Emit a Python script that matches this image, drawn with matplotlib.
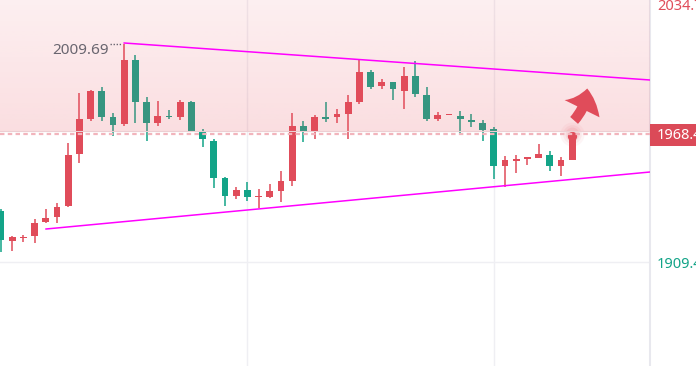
import matplotlib
matplotlib.use("Agg")
import matplotlib.pyplot as plt
from matplotlib.patches import Rectangle, FancyArrowPatch
import numpy as np

plt.rcParams["font.family"] = ["Noto Sans", "DejaVu Sans"]

# candle data (index 0..51), red = up, green = down
opens = [1932.87, 1919.07, 1920.45, 1921.37, 1927.81, 1930.11, 1935.17, 1959.09, 1975.19, 1988.07,
         1976.11, 1972.89, 2002.33, 1983.01, 1973.35, 1976.57, 1976.11, 1983.01, 1969.67, 1965.07,
         1948.05, 1939.77, 1942.53, 1939.31, 1939.31, 1942.07, 1946.67, 1971.97, 1969.21, 1976.11,
         1976.11, 1977.49, 1983.01, 1996.81, 1990.37, 1992.21, 1988.07, 1994.97, 1986.23, 1975.19,
         1977.26, 1976.57, 1974.73, 1973.35, 1970.59, 1953.57, 1955.87, 1956.79, 1957.25, 1958.63,
         1953.57, 1956.33]
closes = [1919.53, 1920.91, 1920.91, 1927.35, 1929.65, 1934.71, 1958.63, 1975.19, 1988.07, 1976.11,
          1972.43, 2002.33, 1983.01, 1973.35, 1976.57, 1976.11, 1983.01, 1969.67, 1965.99, 1948.05,
          1939.77, 1942.53, 1939.31, 1939.77, 1942.07, 1946.67, 1971.97, 1969.21, 1976.11, 1975.19,
          1977.49, 1983.01, 1996.81, 1989.91, 1992.21, 1988.99, 1994.97, 1986.69, 1975.19, 1977.03,
          1977.49, 1975.19, 1973.81, 1970.13, 1953.57, 1956.33, 1956.79, 1957.71, 1959.09, 1953.57,
          1956.33, 1968.40]
highs = [1933.79, 1921.37, 1921.83, 1929.19, 1933.79, 1936.55, 1964.15, 1987.15, 1988.53, 1989.91,
         1977.95, 2009.69, 2004.63, 1985.31, 1983.47, 1979.33, 1983.93, 1983.47, 1970.59, 1965.99,
         1948.51, 1943.91, 1946.21, 1942.99, 1945.29, 1951.27, 1977.95, 1974.27, 1977.03, 1983.01,
         1979.79, 1986.23, 2002.33, 1997.73, 1993.59, 1992.21, 1999.11, 2001.87, 1989.91, 1978.41,
         1977.49, 1978.87, 1977.49, 1974.73, 1971.51, 1958.17, 1958.63, 1957.71, 1963.47, 1960.47,
         1957.71, 1968.40]
lows = [1914.01, 1914.47, 1918.61, 1918.15, 1927.35, 1927.35, 1934.71, 1954.95, 1974.27, 1974.27,
        1967.37, 1971.97, 1973.35, 1965.07, 1971.97, 1975.19, 1974.73, 1969.67, 1962.31, 1943.45,
        1935.17, 1938.39, 1937.47, 1934.25, 1938.85, 1937.01, 1944.37, 1964.61, 1965.99, 1973.81,
        1973.35, 1965.99, 1982.09, 1988.99, 1988.99, 1983.93, 1979.79, 1985.31, 1974.27, 1974.27,
        1977.26, 1968.29, 1971.51, 1965.07, 1947.59, 1943.91, 1950.35, 1954.03, 1957.25, 1951.27,
        1948.97, 1956.33]

upper_line = ([11, 57.95], [2010.15, 1993.13])
lower_line = ([4.02, 57.95], [1924.59, 1950.81])
zone_bottom = 1968.29
high_label = "2009.69"
axis_labels = ["2034.71", "1968.40", "1909.41"]
grid_price = 1909.41

RED = "#e04c5a"
GREEN = "#13a488"

fig = plt.figure(figsize=(6.96, 3.66), dpi=100)
ax = fig.add_axes([0, 0, 650 / 696, 1])
xmin = -1 / 11.2
xmax = xmin + 650 / 11.2
ymax, ymin = 2029.93, 2029.93 - 0.46 * 366
ax.set_xlim(xmin, xmax)
ax.set_ylim(ymin, ymax)

for s in ["top", "left", "bottom"]:
    ax.spines[s].set_visible(False)
ax.spines["right"].set_color("#e8e8ee")
ax.spines["right"].set_linewidth(1.5)
ax.set_xticks([22, 44])
ax.set_yticks([grid_price])
ax.tick_params(length=0, labelbottom=False, labelleft=False)
ax.grid(True, color="#efeff3", lw=1)
ax.set_axisbelow(True)

w = 0.62
for i, (o, c, h, l) in enumerate(zip(opens, closes, highs, lows)):
    col = RED if c >= o else GREEN
    ax.plot([i, i], [l, h], color=col, lw=1.1, zorder=2, solid_capstyle="butt")
    bh = max(abs(c - o), 0.35)
    ax.add_patch(Rectangle((i - w / 2, min(o, c)), w, bh, color=col, lw=0, zorder=2))

# glow on last candle top
last = len(closes) - 1
for s, a in [(300, 0.05), (180, 0.07), (100, 0.1)]:
    ax.scatter(last, closes[last], s=s, color=RED, alpha=a, lw=0, zorder=2)
ax.scatter(last, closes[last] - 0.8, s=45, color=RED, lw=0, zorder=2)

# pink zone with gradient, drawn over candles
n = 100
grad = np.zeros((n, 1, 4))
grad[:, 0, :3] = matplotlib.colors.to_rgb("#e8505e")
grad[:, 0, 3] = np.linspace(0.09, 0.19, n)
ax.imshow(grad, extent=[xmin, xmax, zone_bottom + 0.9, ymax], aspect="auto",
          origin="upper", zorder=3, interpolation="bilinear")
ax.axhline(zone_bottom + 1.2, color="#eccfd3", lw=0.8, zorder=3)
ax.axhline(zone_bottom - 0.2, color="#f2b4bc", lw=1.6, ls=(0, (2, 1.5)), zorder=3)

ax.plot(*upper_line, color="#ff00ff", lw=1.1, zorder=4)
ax.plot(*lower_line, color="#ff00ff", lw=1.1, zorder=4)

# high annotation
ax.text(9.6, highs[11] - 2.8, high_label, ha="right", va="center", fontsize=11,
        color="#6a6670", zorder=5)
ax.plot([9.75, 10.8], [highs[11], highs[11]], color="#6a6670", lw=1, ls=(0, (1, 1.2)), zorder=5)

# curved arrow
arr = FancyArrowPatch((51.0, 1973.6), (52.35, 1990.5),
                      connectionstyle="arc3,rad=0.2",
                      arrowstyle="simple,head_width=2.8,head_length=1.5,tail_width=0.75",
                      mutation_scale=10, color=RED, lw=0, zorder=5)
ax.add_patch(arr)

# right axis labels
fig.text(657 / 696, 1 - 6 / 366, axis_labels[0], color=RED, fontsize=10.5, va="center", ha="left")
fig.patches.append(Rectangle((650 / 696, 1 - 146 / 366), 46 / 696, 22 / 366,
                             transform=fig.transFigure, color="#db4a58", lw=0))
fig.text(657 / 696, 1 - 135 / 366, axis_labels[1], color="white", fontsize=10.5, va="center", ha="left")
fig.text(657 / 696, 1 - 265 / 366, axis_labels[2], color=GREEN, fontsize=10.5, va="center", ha="left")

fig.savefig("out.png", dpi=100)
